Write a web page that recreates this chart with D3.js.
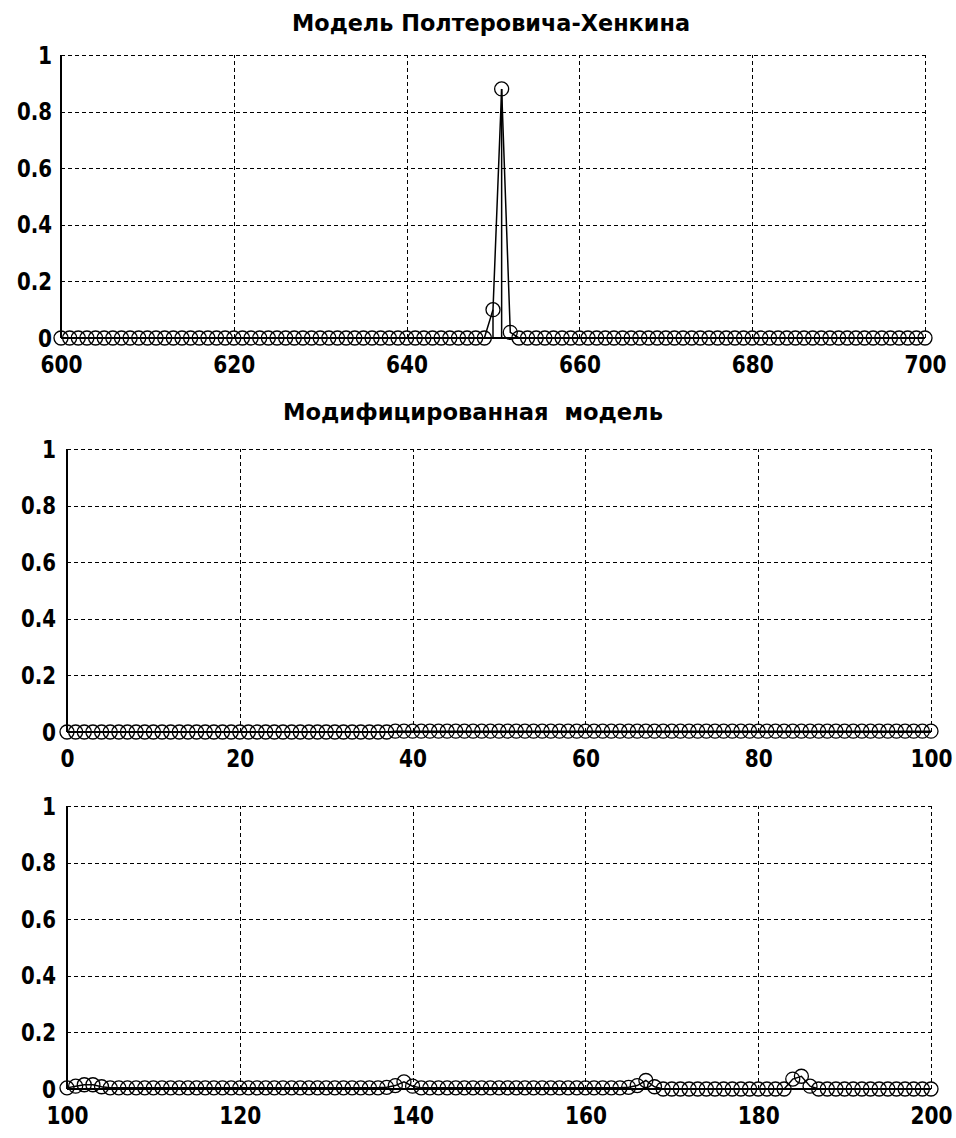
<!DOCTYPE html>
<meta charset="utf-8">
<style>
body { margin: 0; background: #fff; }
svg { display: block; }
.tick text { font-family: 'DejaVu Sans Condensed', 'DejaVu Sans', sans-serif; font-weight: bold; font-size: 25px; fill: #000; }
.grid line { stroke: #000; stroke-width: 1; stroke-dasharray: 4,3; shape-rendering: crispEdges; }
.grid .domain { display: none; }
.title { font-family: 'DejaVu Sans Condensed', 'DejaVu Sans', sans-serif; font-weight: bold; font-size: 23px; white-space: pre; }
</style>
<body>
<svg class="chart"></svg>
<script src="https://d3js.org/d3.v7.min.js"></script>
<script>
// window size
let rwidth = 956, rheight = 1138;

// ticks
let yTicks = [0, 0.2, 0.4, 0.6, 0.8, 1];
let xTicksTop = [600, 620, 640, 660, 680, 700];
let xTicksMid = [0, 20, 40, 60, 80, 100];
let xTicksBot = [100, 120, 140, 160, 180, 200];

// titles
let titleTop = 'Модель Полтеровича-Хенкина';
let titleMid = 'Модифицированная  модель';

// top panel: t = 600..700
let startTop = 600;
let valuesTop = [
  0,0,0,0,0,0,0,0,0,0, 0,0,0,0,0,0,0,0,0,0,
  0,0,0,0,0,0,0,0,0,0, 0,0,0,0,0,0,0,0,0,0,
  0,0,0,0,0,0,0,0,0,0, 0.1,0.88,0.02,0,0,0,0,0,0,0,
  0,0,0,0,0,0,0,0,0,0, 0,0,0,0,0,0,0,0,0,0,
  0,0,0,0,0,0,0,0,0,0, 0,0,0,0,0,0,0,0,0,0,
  0
];

// middle panel: t = 0..100
let startMid = 0;
let valuesMid = [
  0,0,0,0,0,0,0,0,0,0, 0,0,0,0,0,0,0,0,0,0,
  0,0,0,0,0,0,0,0,0,0, 0,0,0,0,0,0,0,0,0.003,0.003,
  0.003,0.003,0.003,0.003,0.003,0.003,0.003,0.003,0.003,0.003, 0.003,0.003,0.003,0.003,0.003,0.003,0.003,0.003,0.003,0.003,
  0.003,0.003,0.003,0.003,0.003,0.003,0.003,0.003,0.003,0.003, 0.003,0.003,0.003,0.003,0.003,0.003,0.003,0.003,0.003,0.003,
  0.003,0.003,0.003,0.003,0.003,0.003,0.003,0.003,0.003,0.003, 0.003,0.003,0.003,0.003,0.003,0.003,0.003,0.003,0.003,0.003,
  0.003
];

// bottom panel: t = 100..200
let startBot = 100;
let valuesBot = [
  0.004,0.01,0.015,0.015,0.008,0.004,0.004,0.004,0.004,0.004, 0.004,0.004,0.004,0.004,0.004,0.004,0.004,0.004,0.004,0.004,
  0.004,0.004,0.004,0.004,0.004,0.004,0.004,0.004,0.004,0.004, 0.004,0.004,0.004,0.004,0.004,0.004,0.004,0.006,0.012,0.025,
  0.01,0.004,0.004,0.004,0.004,0.004,0.004,0.004,0.004,0.004, 0.004,0.004,0.004,0.004,0.004,0.004,0.004,0.004,0.004,0.004,
  0.004,0.004,0.004,0.004,0.004,0.006,0.012,0.03,0.008,0,
  0,0,0,0,0,0,0,0,0,0, 0,0,0,0,0.035,0.045,0.01,0,0,0,
  0,0,0,0,0,0,0,0,0,0,
  0
];

let svg = d3.select('.chart').attr('width', rwidth).attr('height', rheight);

// narrow the bold digits like the old bitmap font
function squeeze(sel) {
  sel.selectAll('.tick text').each(function () {
    let s = this.textContent;
    let w = 0;
    for (let c of s) w += (c === '.' ? 7 : 14);
    d3.select(this).attr('textLength', w).attr('lengthAdjust', 'spacingAndGlyphs');
  });
}

function drawPanel(p) {
  let xscale = d3.scaleLinear().domain([p.xTicks[0], p.xTicks[p.xTicks.length - 1]]).range([p.left, p.right]);
  let yscale = d3.scaleLinear().domain([0, 1]).range([p.bottom, p.top]);
  let g = svg.append('g');

  // dashed grid
  g.append('g').attr('class', 'grid')
    .attr('transform', `translate(0,${p.bottom})`)
    .call(d3.axisBottom(xscale).tickValues(p.xTicks.slice(1)).tickSize(-(p.bottom - p.top)).tickFormat(''));
  g.append('g').attr('class', 'grid')
    .attr('transform', `translate(${p.left},0)`)
    .call(d3.axisLeft(yscale).tickValues(yTicks.slice(1)).tickSize(-(p.right - p.left)).tickFormat(''));

  // tick labels
  let xa = g.append('g').attr('transform', `translate(0,${p.bottom})`)
    .call(d3.axisBottom(xscale).tickValues(p.xTicks).tickSize(0).tickPadding(17).tickFormat(d3.format('d')));
  xa.select('.domain').remove();
  squeeze(xa);
  let ya = g.append('g').attr('transform', `translate(${p.left},0)`)
    .call(d3.axisLeft(yscale).tickValues(yTicks).tickSize(0).tickPadding(p.ypad).tickFormat(d => d));
  ya.select('.domain').remove();
  squeeze(ya);

  // axis lines
  g.append('line').attr('x1', p.left).attr('x2', p.left).attr('y1', p.top).attr('y2', p.bottom)
    .attr('stroke', '#000').attr('stroke-width', 1.5).attr('shape-rendering', 'crispEdges');
  g.append('line').attr('x1', p.left).attr('x2', p.right).attr('y1', p.bottom).attr('y2', p.bottom)
    .attr('stroke', '#000').attr('stroke-width', 2).attr('shape-rendering', 'crispEdges');

  let pts = p.values.map((v, i) => ({t: p.start + i, v: v}));

  // connecting line
  let line = d3.line().x(d => xscale(d.t)).y(d => yscale(d.v));
  g.append('path').datum(pts).attr('d', line)
    .attr('fill', 'none').attr('stroke', '#000').attr('stroke-width', 1.5);

  // stems
  g.selectAll('.stem').data(pts.filter(d => d.v > 0.05)).join('line')
    .attr('x1', d => xscale(d.t)).attr('x2', d => xscale(d.t))
    .attr('y1', yscale(0)).attr('y2', d => yscale(d.v))
    .attr('stroke', '#000').attr('stroke-width', 1.5);

  // circle markers
  g.selectAll('.mark').data(pts).join('circle')
    .attr('cx', d => xscale(d.t)).attr('cy', d => yscale(d.v)).attr('r', 7)
    .attr('fill', 'none').attr('stroke', '#000').attr('stroke-width', 1.3);

  if (p.title) {
    svg.append('text').attr('class', 'title')
      .attr('x', p.titleX).attr('y', p.titleY).attr('text-anchor', 'middle')
      .attr('textLength', p.titleW).attr('lengthAdjust', 'spacingAndGlyphs')
      .text(p.title);
  }
}

drawPanel({left: 61, right: 925, top: 55, bottom: 338, ypad: 9, xTicks: xTicksTop,
  start: startTop, values: valuesTop, title: titleTop, titleX: 491, titleY: 31, titleW: 398});
drawPanel({left: 67, right: 931, top: 449, bottom: 732, ypad: 11, xTicks: xTicksMid,
  start: startMid, values: valuesMid, title: titleMid, titleX: 473, titleY: 420, titleW: 380});
drawPanel({left: 67, right: 931, top: 806, bottom: 1089, ypad: 11, xTicks: xTicksBot,
  start: startBot, values: valuesBot});
</script>
</body>
